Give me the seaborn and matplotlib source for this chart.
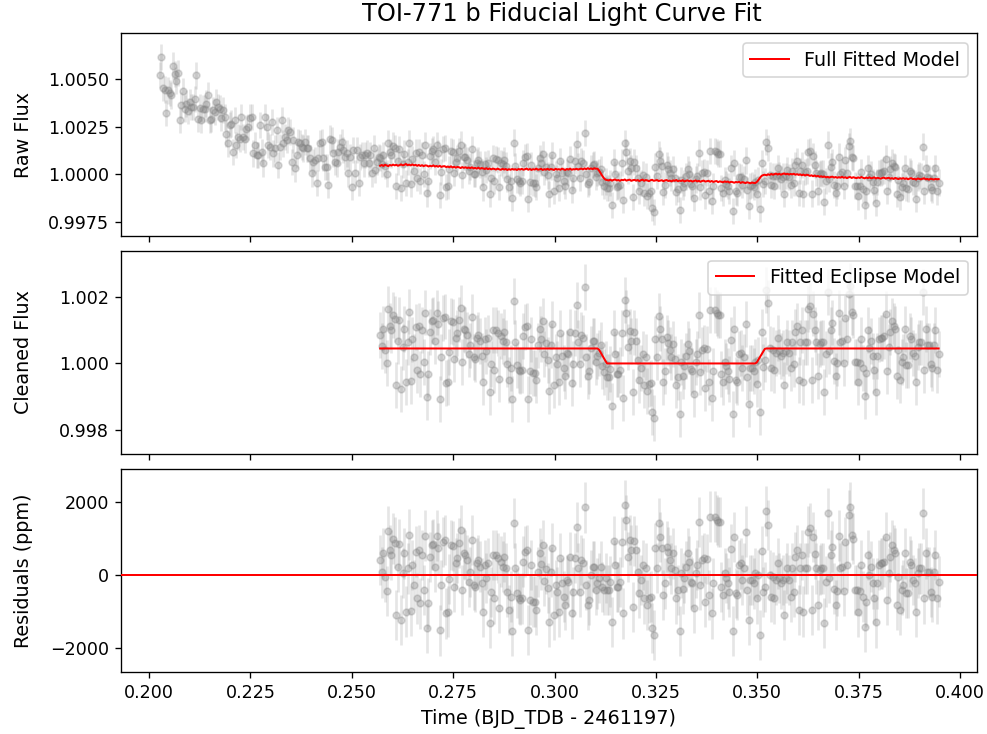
import numpy as np
import matplotlib
matplotlib.use("Agg")
import matplotlib.pyplot as plt
import seaborn as sns

# raw flux before the fit window (ppm offset from 1)
raw_pre_ppm = [
    5220, 6140, 4540, 4450, 3220, 4400, 4260, 4140, 5710, 5270,
    4920, 5310, 2840, 3620, 4370, 3450, 3710, 3310, 3790, 3530,
    3530, 3970, 5190, 2920, 3500, 2840, 3450, 3450, 3710, 4140,
    2840, 2920, 3360, 3270, 3790, 3530, 3450, 2980, 3360, 3010,
    2140, 1620, 2580, 2660, 1180, 2840, 1530, 1970, 1880, 3010,
    1970, 1830, 2400, 2490, 2980, 3010, 1100, 1530, 1010, 1010,
    2580, 1180, 570, 3010, 2490, 1530, 1440, 2750, 1100, 1360,
    2310, 490, 1440, 2840, 1620, 1970, 1790, 2310, 2230, 660,
    1790, 310, 1010, 1710, 1620, 1440, 1360, 1710, 1360, 1360,
    840, 50, 660, 750, -470, 840, 1620, 1710, 840, 400,
    400, -560, 1880, 1790, 1100, 660, 570, 1180, 1440, 1710,
    1270, 920, 1100, 50, 920, -640, 1270, 50, 1270, -470,
    920, 1010, 570, 1010, 1100, 570, 1010, 50, 1360, 230,
    660, 920,
]

# residuals inside the fit window (ppm)
resid_ppm = [
    410, 70, 590, -50, -430, 1200, 680, 550, 1000, 890,
    -1100, 230, 850, -1230, 50, 590, -1000, 180, 1110, -990,
    270, -270, 640, -640, 680, -780, 550, -410, 1080, -1460,
    -780, 500, 820, 850, 230, 1080, 730, -1520, -270, 910,
    960, -1050, -1000, -110, 820, 800, -320, 320, 470, 870,
    1230, -410, 590, 550, 410, -180, 90, 960, -270, -320,
    320, 410, 230, -230, -1000, 270, -90, 320, -1320, -460,
    550, -640, 550, 460, -910, 370, 230, 500, 180, -460,
    -960, -590, -1530, 1420, 180, -500, -640, -680, -640, 370,
    640, 680, -1510, -680, 270, -730, -730, -960, 90, 590,
    290, 820, -160, 160, -350, -1280, 90, 730, -1100, -270,
    -460, -1000, 460, -230, -590, -820, -140, -180, 500, -1050,
    -460, 460, 1320, 180, -460, 410, 320, 1850, -270, -820,
    -680, 0, 230, 230, -410, -230, -90, 230, -320, -410,
    -90, -410, -410, -180, -1280, 930, 270, -320, -320, -200,
    910, -1050, 1920, 1510, 500, 960, 680, -870, 930, 680,
    90, -500, -140, 270, -640, 180, -820, -620, -590, -1460,
    -1640, 730, 200, 1420, 1050, 730, -550, -230, 780, 620,
    410, 180, 590, 140, -640, -410, -1530, 50, -370, -90,
    230, 590, 370, -180, -230, -910, 50, 270, 1460, -270,
    410, 460, -730, 440, -550, 1600, -1050, -230, 1600, 1510,
    1460, 1460, -320, -550, 50, -90, -230, -460, 710, -1530,
    1050, -500, -550, 270, 320, -140, 200, 1190, -410, -1230,
    -140, -140, -230, 50, -640, 0, -1640, 660, -460, -320,
    1750, 1370, 0, -590, -50, -640, -140, 320, -90, -230,
    -140, -1100, -90, 180, -140, -590, 180, -460, 500, 680,
    -960, 180, 550, -1000, 180, 180, 1190, 1280, -960, 1050,
    570, 180, -820, 140, 180, 180, -1320, -180, 1690, -90,
    550, 780, -370, -820, -440, 1080, 180, 230, -440, 910,
    270, 1640, 1870, 1100, 1000, -410, -410, -1000, -440, 270,
    -590, -1420, -730, 550, 0, 230, -230, -640, -1300, -230,
    270, 320, 320, 370, 1050, -680, 50, 500, 820, 680,
    590, -820, -50, -960, -410, -270, 590, -500, -500, 370,
    270, -140, -230, -1000, 50, 180, 180, 1690, -640, 590,
    90, 90, -460, -590, 90, 550, -640, -180,
]

# full fitted model (systematics x eclipse), ppm offset from 1
full_model_ppm = [
    450, 490, 440, 500, 470, 430, 490, 460, 510, 470,
    500, 450, 480, 520, 470, 500, 540, 480, 510, 470,
    520, 470, 500, 450, 490, 440, 480, 430, 470, 460,
    410, 450, 420, 470, 410, 440, 400, 450, 390, 420,
    430, 380, 410, 370, 420, 360, 400, 350, 390, 370,
    330, 380, 340, 370, 330,
    360, 320, 370, 310, 340, 300, 350, 290, 330, 310,
    280, 320, 270, 310, 260, 300, 280, 250, 300, 260,
    240, 290, 250, 280, 230, 270, 240, 280, 250, 270,
    230, 280, 250, 290, 240, 270, 300, 240, 280, 230,
    270, 250, 300, 240, 260, 290, 230, 270, 250, 290,
    240, 280, 260, 230, 290, 250, 270, 240, 300, 260,
    230, 280, 250, 300, 240, 270, 260, 290, 250, 280,
    300, 260, 310, 270, 320,
    280, 310, 270, 320, 290, 300,
    200, 60, -80, -200, -280, -300,
    -320, -280, -330, -290, -270, -320, -300, -340, -290, -310,
    -270, -330, -300, -280, -340, -310, -290, -330, -300, -350,
    -310, -280, -340, -300, -320, -360, -310, -290, -340, -320,
    -300, -350, -330, -310, -360, -320, -300, -350, -330, -370,
    -320, -340, -300, -360, -330, -350, -310, -370, -340, -320,
    -360, -330, -380, -350, -320, -370, -340, -390, -350, -330,
    -380, -360, -340, -390, -350, -400, -370, -350, -410, -370,
    -390, -420, -370, -400, -380, -430, -390, -410, -440, -400,
    -420, -390, -450, -410, -430, -460, -420, -440, -470, -430,
    -450, -460,
    -400, -300, -180, -80, -40, -20,
    -50, 0, -30, 20, -20, 10, 40, -10, 30, -20,
    20, 50, 0, 30, -10, 20,
    0, 30, -20, 10, -30, 0, -50, -10, -60, -20,
    -40, -80, -50, -100, -60, -110, -80, -130, -100, -140,
    -110, -160, -130, -170, -140, -120, -170, -140, -180, -150,
    -170, -130, -180, -150, -200, -160, -140, -190, -150, -180,
    -200, -160, -190, -140, -180, -210, -170, -200, -160, -210,
    -190, -160, -220, -180, -200, -230, -190, -170, -220, -200,
    -180, -230, -200, -240, -190, -220, -250, -210, -230, -200,
    -240, -210, -260, -220, -200, -250, -230, -270, -220, -240,
    -260, -230, -210, -260, -240, -280, -230, -250, -270, -240,
    -260, -250,
]

# eclipse model corners
eclipse_time = [0.2570, 0.3108, 0.3129, 0.3497, 0.3519, 0.3947]
eclipse_flux = [1.00045, 1.00045, 1.0, 1.0, 1.00045, 1.00045]

flux_err_ppm = 690

t_pre = np.linspace(0.2026, 0.2566, len(raw_pre_ppm))
t_fit = np.linspace(0.2570, 0.3947, len(resid_ppm))

resid = np.array(resid_ppm, dtype=float)
eclipse_fit = np.interp(t_fit, eclipse_time, eclipse_flux)
full_model = 1 + np.array(full_model_ppm) * 1e-6
cleaned = eclipse_fit + resid * 1e-6
raw_fit = full_model + resid * 1e-6

t_all = np.concatenate([t_pre, t_fit])
raw_all = np.concatenate([1 + np.array(raw_pre_ppm) * 1e-6, raw_fit])

fig, axes = plt.subplots(3, 1, sharex=True, figsize=(9.87 / 1.2, 7.34 / 1.2), dpi=120)
pos = [(0.6789, 0.2757), (0.3815, 0.2766), (0.0838, 0.2768)]
for ax, (b, h) in zip(axes, pos):
    ax.set_position([0.1223, b, 0.8677, h])
    ax.tick_params(labelsize=10.5)

pt = dict(fmt='o', markersize=4, zorder=1,
          markerfacecolor=(0.5, 0.5, 0.5, 0.3), markeredgecolor=(0.5, 0.5, 0.5, 0.3),
          ecolor=(0.5, 0.5, 0.5, 0.2), elinewidth=1.6)

ax = axes[0]
ax.errorbar(t_all, raw_all, yerr=flux_err_ppm * 1e-6, **pt)
sns.lineplot(x=t_fit, y=full_model, color='red', linewidth=1.2, estimator=None,
             label='Full Fitted Model', ax=ax, zorder=3)
ax.set_ylabel('Raw Flux', fontsize=11.5, labelpad=9)
ax.set_ylim(0.99678, 1.0074)
ax.legend(loc='upper right', fontsize=11.5)

ax = axes[1]
ax.errorbar(t_fit, cleaned, yerr=flux_err_ppm * 1e-6, **pt)
sns.lineplot(x=t_fit, y=eclipse_fit, color='red', linewidth=1.2, estimator=None,
             label='Fitted Eclipse Model', ax=ax, zorder=3)
ax.set_ylabel('Cleaned Flux', fontsize=11.5, labelpad=9)
ax.set_ylim(0.99728, 1.00338)
ax.legend(loc='upper right', fontsize=11.5)

ax = axes[2]
ax.errorbar(t_fit, resid, yerr=flux_err_ppm, **pt)
ax.axhline(0, color='red', linewidth=1.2, zorder=3)
ax.set_ylabel('Residuals (ppm)', fontsize=11.5, labelpad=9)
ax.set_ylim(-2671, 2896)
ax.set_xlabel('Time (BJD_TDB - 2461197)', fontsize=11.5)
ax.set_xlim(0.19302, 0.40419)

fig.align_ylabels(axes)
fig.text(0.5694, 1 - 14 / 734, 'TOI-771 b Fiducial Light Curve Fit',
         ha='center', va='center', fontsize=14.5)

fig.savefig('out.png', dpi=120)
